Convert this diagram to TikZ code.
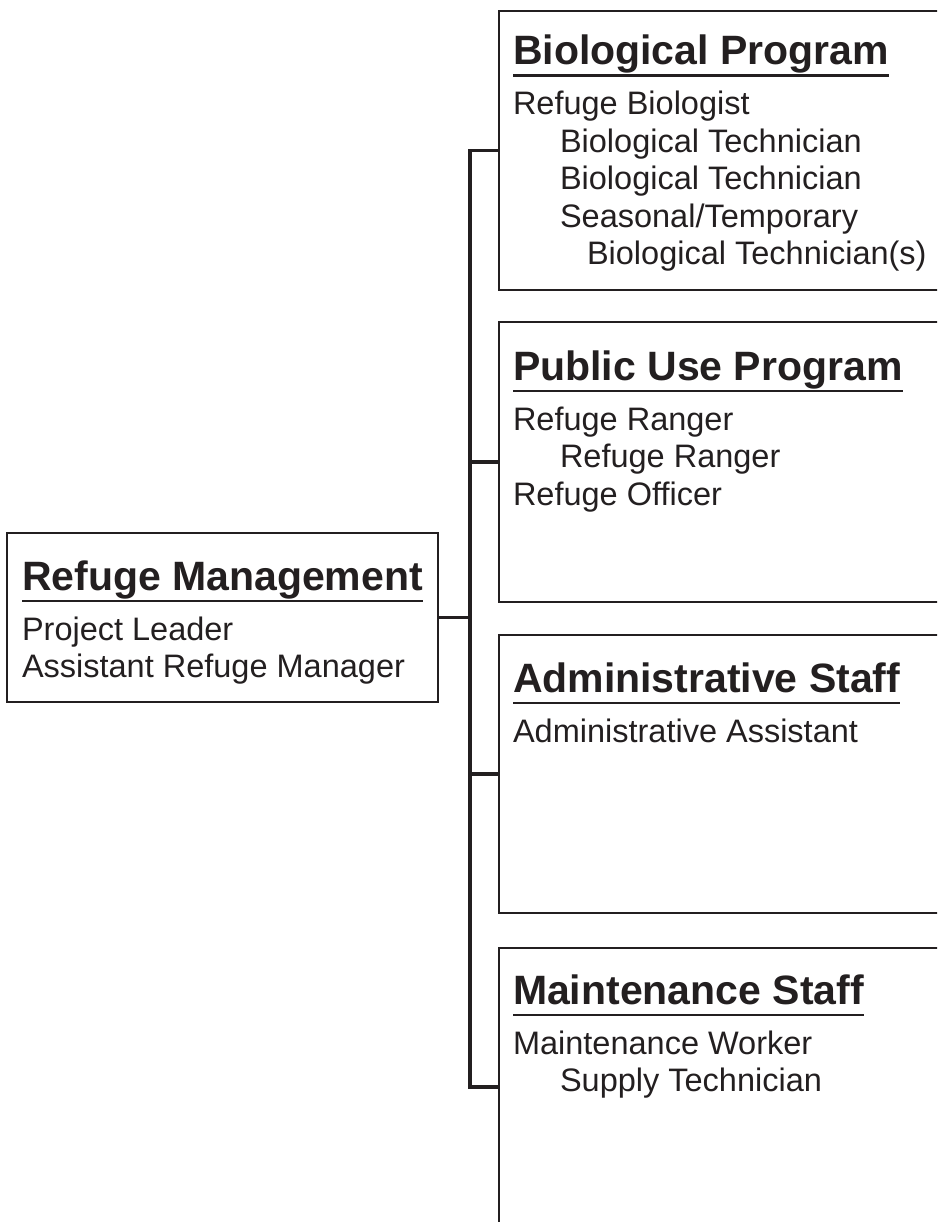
\documentclass[tikz,border=0pt]{standalone}
\usepackage{fontspec}
\setmainfont{Liberation Sans}
\usetikzlibrary{positioning}
\definecolor{ink}{RGB}{35,31,32}
\tikzset{
  unit box/.style={draw=ink,line width=2pt,inner sep=0,outer sep=0,anchor=north west,minimum width=460pt},
  unit text/.style={align=left,inner sep=0,outer sep=0,anchor=north west,text=ink,
    font=\fontsize{32.5pt}{37.5pt}\selectfont},
  link/.style={draw=ink,line width=3.3pt}
}
\newcommand{\unithead}[1]{{\fontsize{41pt}{41pt}\selectfont\bfseries
  \setbox0\hbox{#1}\rule{0pt}{31pt}\rlap{\copy0}\rule[-12pt]{\wd0}{2.5pt}}}
\newcommand{\ind}{\hspace*{47pt}}
\newcommand{\indd}{\hspace*{74pt}}

\begin{document}
\begin{tikzpicture}[x=1pt,y=-1pt]
    \useasboundingbox (0,0) rectangle (937,1222);
    \clip (0,0) rectangle (937,1222);
    % Boxes: management on the left, four units on the right
    \node[unit box,minimum width=431pt,minimum height=169pt] (mgmt) at (7,533) {};
    \node[unit box,minimum height=279pt] (bio)   at (499,11)  {};
    \node[unit box,minimum height=280pt] (pub)   at (499,322) {};
    \node[unit box,minimum height=278pt] (admin) at (499,635) {};
    \node[unit box,minimum height=278pt] (maint) at (499,948) {};
    % Texts
    \node[unit text,below right=26pt and 15pt of mgmt.north west] (mgmt text)
      {\unithead{Refuge Management}\\[12.5pt]
       Project Leader\\
       Assistant Refuge Manager};
    \node[unit text,below right=23pt and 14pt of bio.north west] (bio text)
      {\unithead{Biological Program}\\[12.5pt]
       Refuge Biologist\\
       \ind Biological Technician\\
       \ind Biological Technician\\
       \ind Seasonal/Temporary\\
       \indd Biological Technician(s)};
    \node[unit text,below right=27pt and 14pt of pub.north west] (pub text)
      {\unithead{Public Use Program}\\[12.5pt]
       Refuge Ranger\\
       \ind Refuge Ranger\\
       Refuge Officer};
    \node[unit text,below right=26pt and 14pt of admin.north west] (admin text)
      {\unithead{Administrative Staff}\\[12.5pt]
       Administrative Assistant};
    \node[unit text,below right=25pt and 14pt of maint.north west] (maint text)
      {\unithead{Maintenance Staff}\\[12.5pt]
       Maintenance Worker\\
       \ind Supply Technician};
    % Connections
    \coordinate (spine) at (470,0);
    \draw[link] (bio.west) -- (bio.west -| spine) -- (maint.west -| spine) -- (maint.west);
    \foreach \u in {pub,admin} \draw[link] (\u.west) -- (\u.west -| spine);
    \draw[link] (mgmt.east) -- (mgmt.east -| spine);
\end{tikzpicture}
\end{document}
